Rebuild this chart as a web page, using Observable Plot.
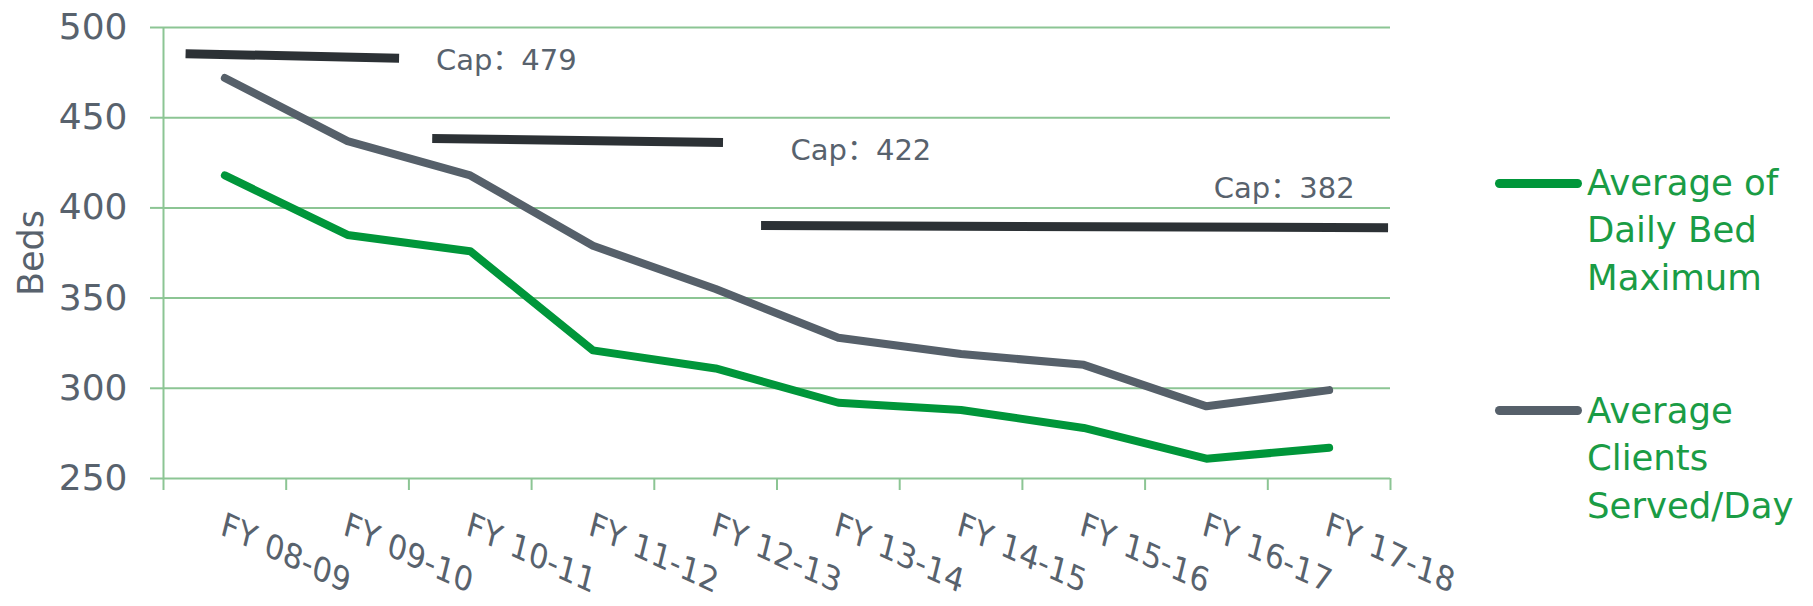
<!DOCTYPE html>
<html><head><meta charset="utf-8">
<script src="https://cdn.jsdelivr.net/npm/d3@7"></script>
<script src="https://cdn.jsdelivr.net/npm/@observablehq/plot@0.6"></script>
<style>
body{margin:0;background:#fff;}
#wrap{position:relative;width:1813px;height:606px;overflow:hidden;}
#wrap svg{display:block;position:absolute;left:0;top:0;}
.leg{position:absolute;font-family:"DejaVu Sans",sans-serif;font-size:35.5px;line-height:47.5px;color:#1a9c45;white-space:nowrap;}
.sw{position:absolute;height:9px;border-radius:4.5px;}
</style></head><body><div id="wrap"></div>
<script>
// ---- data ----
const categories = ["FY 08-09","FY 09-10","FY 10-11","FY 11-12","FY 12-13","FY 13-14","FY 14-15","FY 15-16","FY 16-17","FY 17-18"];
const bedMax  = [418, 385, 376, 321, 311, 292, 288, 278, 261, 267];
const clients = [472, 437, 418, 379, 355, 328, 319, 313, 290, 299];
const yTicks = [250, 300, 350, 400, 450, 500];
const seriesNames = ["Average of Daily Bed Maximum", "Average Clients Served/Day"];
const legendLines = [["Average of","Daily Bed","Maximum"], ["Average","Clients","Served/Day"]];
const capLabels = ["Cap\uFF1A479", "Cap\uFF1A422", "Cap\uFF1A382"];
const capLineFrom = [0.18, 2.19, 4.87];     // category-index units
const capLineTo   = [1.92, 4.56, 9.98];
const capLineValFrom = [485.5, 438.5, 390.2];
const capLineValTo   = [483.0, 436.3, 389.0];
const capLabelPos = [2.22, 5.11, 8.56];
const capLabelVal = [481.7, 431.5, 410.5];

// ---- styles ----
const gridColor = "#8cc594";
const textGray = "#58626d";
const green = "#00963a";
const gray = "#56606a";
const capColor = "#2c3135";
const labelRotate = 25;

const rowsBed = categories.map((c, i) => ({cat: c, pos: i + 0.5, value: bedMax[i]}));
const rowsCli = categories.map((c, i) => ({cat: c, pos: i + 0.5, value: clients[i]}));
const caps = capLabels.map((l, i) => ({label: l, x1: capLineFrom[i], x2: capLineTo[i], y1: capLineValFrom[i], y2: capLineValTo[i], lx: capLabelPos[i], ly: capLabelVal[i]}));

const plot = Plot.plot({
  width: 1813, height: 606,
  marginLeft: 163, marginRight: 423, marginTop: 27, marginBottom: 128,
  x: {domain: [0, categories.length]},
  y: {domain: [250, 500]},
  style: {fontFamily: "'DejaVu Sans', 'Noto Sans CJK SC', sans-serif", background: "#fff", overflow: "visible"},
  marks: [
    Plot.ruleY(yTicks, {stroke: gridColor, strokeWidth: 2}),
    Plot.axisY({ticks: yTicks, tickSize: 13, tickPadding: 23, stroke: gridColor, strokeWidth: 2, fill: textGray, fontSize: 36, label: null, tickFormat: d => String(d)}),
    Plot.axisX({ticks: d3.range(0, categories.length + 1), tickSize: 12, stroke: gridColor, strokeWidth: 2, tickFormat: () => "", label: null}),
    Plot.ruleX([0], {stroke: gridColor, strokeWidth: 2}),
    Plot.link(caps, {x1: "x1", x2: "x2", y1: "y1", y2: "y2", stroke: capColor, strokeWidth: 9, strokeLinecap: "butt"}),
    Plot.line(rowsCli, {x: "pos", y: "value", stroke: gray, strokeWidth: 8, strokeLinejoin: "round", strokeLinecap: "round"}),
    Plot.line(rowsBed, {x: "pos", y: "value", stroke: green, strokeWidth: 8, strokeLinejoin: "round", strokeLinecap: "round"}),
    Plot.text(caps, {x: "lx", y: "ly", text: "label", textAnchor: "start", lineAnchor: "middle", fill: textGray, fontSize: 29}),
    Plot.text(categories, {x: (d, i) => i + 0.5, frameAnchor: "bottom", dy: 33, rotate: labelRotate, textAnchor: "start", lineAnchor: "top", fill: textGray, fontSize: 32}),
    Plot.text(["Beds"], {frameAnchor: "left", dx: -132, rotate: -90, textAnchor: "middle", lineAnchor: "middle", fill: textGray, fontSize: 35})
  ]
});

// shear the rotated category labels like the original
d3.select(plot).selectAll("[transform]").each(function() {
  const t = this.getAttribute("transform");
  if (t && t.includes(`rotate(${labelRotate})`)) this.setAttribute("transform", t + " skewX(11)");
});

const wrap = document.getElementById("wrap");
wrap.appendChild(plot);

// legend (right side)
const legendColors = [green, gray];
const legendTop = [158.5, 386.5];
const swatchY = [183, 410];
seriesNames.forEach((name, i) => {
  const sw = document.createElement("div");
  sw.className = "sw";
  sw.style.left = "1495px"; sw.style.width = "87px";
  sw.style.top = (swatchY[i] - 4.5) + "px";
  sw.style.background = legendColors[i];
  sw.title = name;
  wrap.appendChild(sw);
  const tx = document.createElement("div");
  tx.className = "leg";
  tx.style.left = "1587px"; tx.style.top = legendTop[i] + "px";
  tx.innerHTML = legendLines[i].join("<br>");
  wrap.appendChild(tx);
});
</script></body></html>
